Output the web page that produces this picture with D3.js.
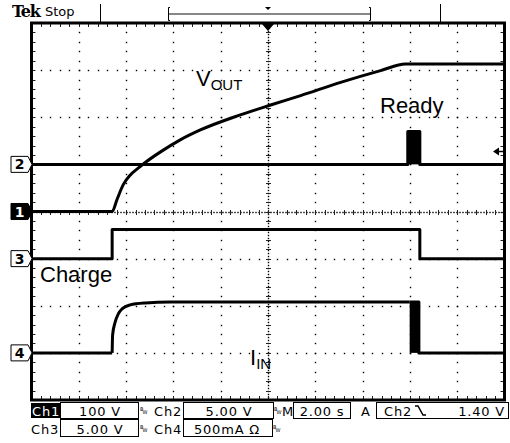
<!DOCTYPE html>
<html><head><meta charset="utf-8">
<script src="https://cdn.jsdelivr.net/npm/d3@7"></script>
<style>body{margin:0;background:#fff}svg{display:block}</style>
</head><body>
<svg id="c" width="510" height="443"></svg>
<script>
// ---- data ----
// time (s): 2.00 s/div, 10 divisions
const timeDomain = [0, 20];
// Ch1 VOUT (V), 100 V/div
const vOutTime  = [0, 3.41, 3.62, 3.88, 4.17, 4.51, 4.81, 5.44, 6.29, 7.14, 8.83, 10.11, 11.38, 13.07, 14.76, 15.82, 20];
const vOutVolts = [0, 0,    26,   57,   77,   92,   104,  126,  152,  173,  205,  226,   246,   274,   299,   313,   313];
// Ch2 Ready (V), 5 V/div
const readyTime  = [0, 15.91, 15.91, 16.42, 16.42, 20];
const readyVolts = [0, 0,     3.5,   3.5,   0,     0];
const readyBurst = [15.91, 16.42, 3.5];
// Ch3 Charge (V), 5 V/div
const chargeTime  = [0, 3.41, 3.41, 16.42, 16.42, 20];
const chargeVolts = [0, 0,    3.1,  3.1,   0,     0];
// Ch4 IIN (mA), 500 mA/div
const iInTime = [0, 3.41, 3.43, 3.54, 3.67, 3.83, 4.17, 4.81, 5.87, 15.99, 16.38, 16.38, 20];
const iInMA   = [0, 0,    190,  329,  414,  467,  509,  530,  540,  540,   540,   0,     0];
const iInBurst = [15.99, 16.38, 540];
// scope settings text
const row1 = [["Ch1", "100 V"], ["Ch2", "5.00 V"]];
const row2 = [["Ch3", "5.00 V"], ["Ch4", "500mA Ω"]];
const timebase = "2.00 s";
const trigChannel = "Ch2", trigLevelText = "1.40 V", trigLevel = 1.40;

// ---- layout ----
const L = 31.5, R = 504.5, T = 23, B = 400;
const divH = (B - T) / 8, divW = (R - L) / 10;
const svg = d3.select("#c");
const x = d3.scaleLinear().domain(timeDomain).range([L, R]);
function chScale(offsetDiv, perDiv) {
  return d3.scaleLinear().domain([(-4 - offsetDiv) * perDiv, (4 - offsetDiv) * perDiv]).range([B, T]);
}
const y1 = chScale(0, 100), y2 = chScale(1, 5), y3 = chScale(-1, 5), y4 = chScale(-3, 500);

// ---- grid ----
const g = svg.append("g");
const cx = Math.round((L + R) / 2), cy = Math.round((T + B) / 2);
function dot(xx, yy) {
  g.append("rect").attr("x", xx - 0.2).attr("y", yy - 0.2).attr("width", 1.4).attr("height", 1.4).attr("fill", "#000");
}
for (let k = 1; k < 10; k++) {
  if (k === 5) continue;
  const xx = Math.round(L + k * divW);
  for (let j = 1; j < 40; j++) dot(xx, Math.round(T + j * divH / 5));
}
for (let j = 1; j < 8; j++) {
  if (j === 4) continue;
  const yy = Math.round(T + j * divH);
  for (let k = 1; k < 50; k++) dot(Math.round(L + k * divW / 5), yy);
}
// center lines (dotted with minor ticks)
for (let yy = T + 2; yy < B - 1; yy += 3) dot(cx, yy);
for (let xx = L + 2; xx < R - 1; xx += 3) dot(xx, cy);
for (let j = 1; j < 40; j++) {
  const yy = Math.round(T + j * divH / 5) + 0.5;
  g.append("line").attr("x1", cx - 2).attr("x2", cx + 3).attr("y1", yy).attr("y2", yy).attr("stroke", "#222");
  g.append("line").attr("x1", L).attr("x2", L + 4).attr("y1", yy).attr("y2", yy).attr("stroke", "#222");
  g.append("line").attr("x1", R - 4).attr("x2", R).attr("y1", yy).attr("y2", yy).attr("stroke", "#222");
}
for (let k = 1; k < 50; k++) {
  const xx = Math.round(L + k * divW / 5) + 0.5;
  g.append("line").attr("y1", cy - 2).attr("y2", cy + 3).attr("x1", xx).attr("x2", xx).attr("stroke", "#222");
  g.append("line").attr("y1", T).attr("y2", T + 4).attr("x1", xx).attr("x2", xx).attr("stroke", "#222");
  g.append("line").attr("y1", B - 4).attr("y2", B).attr("x1", xx).attr("x2", xx).attr("stroke", "#222");
}
// frame
svg.append("rect").attr("x", L).attr("y", T).attr("width", R - L).attr("height", B - T)
  .attr("fill", "none").attr("stroke", "#000").attr("stroke-width", 3);

// ---- traces ----
function trace(ts, vs, ys, curve) {
  const pts = ts.map((t, i) => [t, vs[i]]);
  const line = d3.line().x(d => x(d[0])).y(d => ys(d[1])).curve(curve || d3.curveLinear);
  svg.append("path").attr("d", line(pts)).attr("fill", "none").attr("stroke", "#000")
    .attr("stroke-width", 3).attr("stroke-linejoin", "round");
}
trace(vOutTime, vOutVolts, y1, d3.curveMonotoneX);
trace(readyTime, readyVolts, y2);
trace(chargeTime, chargeVolts, y3);
// IIN: smooth exponential rise part, straight segments elsewhere
trace(iInTime.slice(0, 2), iInMA.slice(0, 2), y4);
trace(iInTime.slice(1, 10), iInMA.slice(1, 10), y4, d3.curveMonotoneX);
trace(iInTime.slice(9), iInMA.slice(9), y4);
svg.append("rect").attr("x", x(readyBurst[0])).attr("width", x(readyBurst[1]) - x(readyBurst[0]))
  .attr("y", y2(readyBurst[2])).attr("height", y2(0) - y2(readyBurst[2])).attr("fill", "#000");
svg.append("rect").attr("x", x(iInBurst[0])).attr("width", x(iInBurst[1]) - x(iInBurst[0]))
  .attr("y", y4(iInBurst[2])).attr("height", y4(0) - y4(iInBurst[2])).attr("fill", "#000");

// ---- channel markers ----
function marker(yy, label, filled) {
  const p = `M11,${yy - 8}H28L32,${yy}L28,${yy + 8}H11Z`;
  svg.append("path").attr("d", p).attr("fill", filled ? "#000" : "#fff").attr("stroke", "#000").attr("stroke-width", 1);
  svg.append("text").attr("x", 19.5).attr("y", yy + 5).attr("text-anchor", "middle")
    .attr("font-family", "DejaVu Sans").attr("font-size", 14).attr("font-weight", "bold")
    .attr("fill", filled ? "#fff" : "#000").text(label);
}
marker(y2(0), "2", false);
marker(y1(0), "1", true);
marker(y3(0), "3", false);
marker(y4(0), "4", false);
// trigger level arrow
const ty = Math.round(y2(trigLevel)) + 0.5;
svg.append("line").attr("x1", 497).attr("x2", 505).attr("y1", ty).attr("y2", ty).attr("stroke", "#000").attr("stroke-width", 1.5);
svg.append("path").attr("d", `M493,${ty}L499,${ty - 4}L499,${ty + 4}Z`).attr("fill", "#000");

// ---- annotations ----
const af = "Liberation Sans, Arial, sans-serif";
const vt = svg.append("text").attr("x", 196).attr("y", 86).attr("font-family", af).attr("font-size", 22);
vt.append("tspan").text("V");
vt.append("tspan").attr("font-size", 15).attr("dy", 4).text("OUT");
svg.append("text").attr("x", 380).attr("y", 113).attr("font-family", af).attr("font-size", 22).text("Ready");
svg.append("text").attr("x", 40).attr("y", 282).attr("font-family", af).attr("font-size", 22).text("Charge");
const it = svg.append("text").attr("x", 250).attr("y", 365).attr("font-family", af).attr("font-size", 22);
it.append("tspan").text("I");
it.append("tspan").attr("font-size", 15).attr("dy", 4).text("IN");

// ---- header ----
svg.append("text").attr("x", 12).attr("y", 17).attr("font-family", "DejaVu Serif").attr("font-weight", "bold")
  .attr("font-size", 16).attr("letter-spacing", -1.2).text("Tek");
svg.append("text").attr("x", 45).attr("y", 16).attr("font-family", "DejaVu Sans").attr("font-size", 13).text("Stop");
svg.append("line").attr("x1", 100.5).attr("x2", 100.5).attr("y1", 4).attr("y2", 22).attr("stroke", "#000");
svg.append("line").attr("x1", 440.5).attr("x2", 440.5).attr("y1", 4).attr("y2", 22).attr("stroke", "#000");
svg.append("line").attr("x1", 168).attr("x2", 371).attr("y1", 14).attr("y2", 14).attr("stroke", "#888").attr("stroke-width", 2);
svg.append("path").attr("d", "M170,7.5H168.5V20.5H170M369,7.5H370.5V20.5H369").attr("fill", "none").attr("stroke", "#000");
svg.append("path").attr("d", `M${x(10) - 3},7L${x(10) + 3},7L${x(10)},10Z`).attr("fill", "#000");
svg.append("path").attr("d", `M${x(10) - 6},24L${x(10) + 6},24L${x(10)},31Z`).attr("fill", "#000");

// ---- status bar ----
const sf = "DejaVu Sans";
function bw(xx, yy) {
  svg.append("text").attr("x", xx).attr("y", yy - 5).attr("font-family", sf).attr("font-size", 5).text("B");
  svg.append("text").attr("x", xx + 2.5).attr("y", yy - 2).attr("font-family", sf).attr("font-size", 5).text("W");
}
function box(x0, x1, y0, y1) {
  svg.append("rect").attr("x", x0 + 0.5).attr("y", y0 + 0.5).attr("width", x1 - x0).attr("height", y1 - y0)
    .attr("fill", "none").attr("stroke", "#000").attr("stroke-width", 1);
}
function stext(xx, yy, t, anchor, fill) {
  svg.append("text").attr("x", xx).attr("y", yy).attr("font-family", sf).attr("font-size", 13)
    .attr("letter-spacing", 0.8).attr("text-anchor", anchor || "start").attr("fill", fill || "#000").text(t);
}
const r1 = 416, r2 = 434;
svg.append("rect").attr("x", 31).attr("y", 403).attr("width", 29).attr("height", 15).attr("fill", "#000");
stext(32, r1, row1[0][0], "start", "#fff");
box(60, 138, 402, 418); stext(100, r1, row1[0][1], "middle"); bw(140, r1);
stext(154, r1, row1[1][0]); box(183, 273, 402, 418); stext(229, r1, row1[1][1], "middle"); bw(274, r1);
stext(282, r1, "M"); box(293, 350, 402, 418); stext(322, r1, timebase, "middle");
stext(361, r1, "A"); box(376, 508, 402, 418);
stext(384, r1, trigChannel);
svg.append("path").attr("d", `M415,${r1 - 10}H418L423,${r1 - 1}H426`).attr("fill", "none").attr("stroke", "#000").attr("stroke-width", 1.5);
stext(505, r1, trigLevelText, "end");
stext(31, r2, row2[0][0]); box(60, 138, 419, 436); stext(100, r2, row2[0][1], "middle"); bw(140, r2);
stext(154, r2, row2[1][0]); box(183, 272, 419, 436); stext(227, r2, row2[1][1], "middle"); bw(273, r2);
</script>
</body></html>
